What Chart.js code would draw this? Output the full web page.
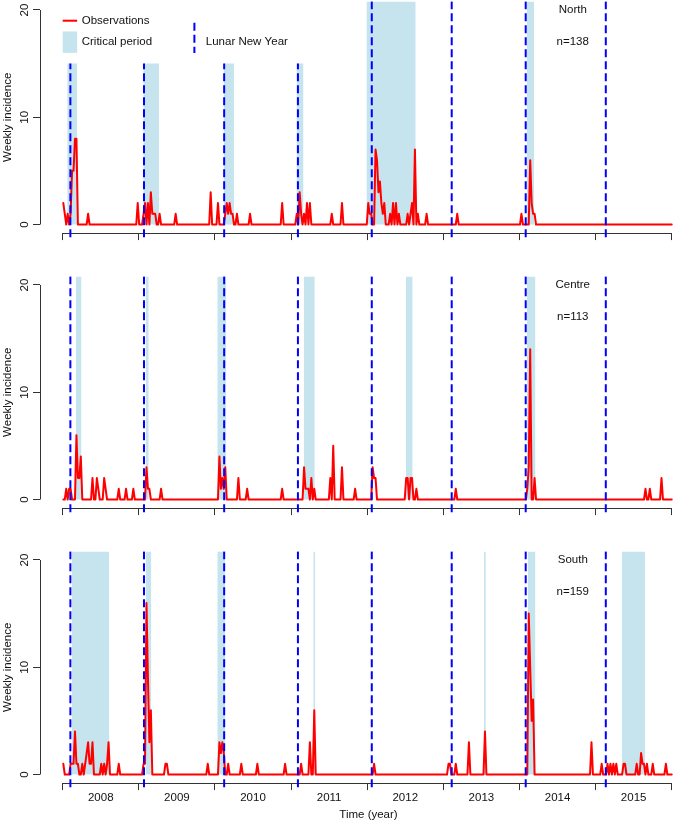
<!DOCTYPE html>
<html>
<head>
<meta charset="utf-8">
<title>Weekly incidence by region</title>
<script src="https://cdn.jsdelivr.net/npm/chart.js@4.4.1/dist/chart.umd.min.js"></script>
<style>
  html, body { margin: 0; padding: 0; background: #fff; overflow: hidden; }
  #wrap { width: 675px; height: 823px; overflow: hidden; }
  canvas { display: block; }
</style>
</head>
<body>
<div id="wrap">
  <canvas id="north" width="697" height="275"></canvas>
  <canvas id="centre" width="697" height="275"></canvas>
  <canvas id="south" width="697" height="273"></canvas>
</div>
<script>
// weekly series start in the first week of 2008
const WEEKS = 418;
const years = [2008, 2009, 2010, 2011, 2012, 2013, 2014, 2015];
const yTicks = [0, 10, 20];

// Lunar New Year, as decimal year
const lunarNewYear = [2008.101, 2009.068, 2010.121, 2011.090, 2012.060, 2013.110, 2014.082, 2015.134];

// weekly incidence as [week index, cases]; every other week is 0
const northCases = [
  [0, 2], [1, 1], [3, 1], [5, 1], [6, 5], [7, 5], [8, 8], [9, 8], [17, 1],
  [51, 2], [55, 1], [56, 2], [58, 2], [60, 3], [61, 1], [62, 1], [63, 1], [66, 1], [77, 1],
  [101, 3], [106, 2], [111, 1], [112, 2], [113, 1], [114, 2], [115, 1], [116, 1], [119, 1], [128, 1],
  [150, 2], [160, 1], [162, 3], [163, 1], [165, 1], [167, 2], [169, 2], [184, 1], [191, 2],
  [209, 2], [210, 1], [211, 1], [214, 7], [215, 6], [216, 3], [217, 4], [218, 2], [219, 1], [220, 2],
  [224, 1], [226, 2], [228, 2], [230, 1], [236, 1], [238, 1], [239, 2], [241, 7], [243, 1], [249, 1],
  [270, 1], [314, 1], [320, 6], [321, 2], [322, 1], [323, 1]
];
const centreCases = [
  [2, 1], [4, 1], [5, 1], [9, 6], [10, 2], [11, 2], [12, 4], [20, 2], [23, 2], [24, 1], [28, 2], [29, 1],
  [38, 1], [43, 1], [48, 1], [57, 3], [58, 1], [59, 1], [67, 1],
  [107, 4], [108, 1], [109, 2], [110, 1], [111, 3], [120, 2], [126, 1], [150, 1],
  [165, 3], [166, 1], [167, 1], [168, 1], [170, 2], [172, 1], [183, 2], [185, 5], [191, 3], [200, 1],
  [212, 3], [213, 2], [214, 2], [235, 2], [236, 2], [238, 2], [239, 2], [242, 1], [269, 1],
  [318, 1], [319, 3], [320, 14], [323, 2],
  [399, 1], [402, 1], [410, 2]
];
const southCases = [
  [0, 1], [5, 1], [6, 1], [7, 1], [8, 4], [9, 1], [10, 1], [13, 1], [15, 1], [16, 2], [17, 3], [18, 1],
  [19, 1], [20, 3], [26, 1], [28, 1], [30, 1], [31, 3], [38, 1],
  [55, 1], [56, 1], [57, 16], [58, 9], [59, 3], [60, 6], [70, 1], [71, 1], [99, 1],
  [107, 3], [108, 2], [109, 3], [110, 2], [113, 1], [122, 1], [133, 1], [152, 1], [163, 1], [169, 3], [172, 6],
  [213, 1], [264, 1], [265, 1], [269, 1], [278, 3], [289, 4],
  [319, 15], [320, 10], [321, 5], [322, 7],
  [362, 3], [369, 1], [373, 1], [375, 1], [377, 1], [379, 1], [384, 1], [385, 1], [393, 1],
  [396, 2], [397, 1], [398, 1], [400, 1], [404, 1], [413, 1]
];

// critical periods: [start, end, top of shading]
const northCritical = [
  [2008.060, 2008.192, 15], [2009.059, 2009.265, 15], [2010.119, 2010.250, 15], [2011.071, 2011.163, 15],
  [2011.990, 2012.637, 22], [2014.095, 2014.191, 22]
];
const centreCritical = [
  [2008.175, 2008.247, 22], [2009.090, 2009.130, 22], [2010.031, 2010.149, 22], [2011.166, 2011.311, 22],
  [2012.509, 2012.597, 22], [2014.099, 2014.210, 22]
];
const southCritical = [
  [2008.122, 2008.612, 22], [2009.090, 2009.164, 22], [2010.031, 2010.136, 22], [2011.292, 2011.317, 22],
  [2013.534, 2013.558, 22], [2014.110, 2014.210, 22], [2015.343, 2015.649, 22]
];

// top of each Lunar New Year line (North leaves room for the legend)
const northLnyTop = [15, 15, 15, 15, 22, 22, 22, 22];
const fullLnyTop = [22, 22, 22, 22, 22, 22, 22, 22];

const FONT = { family: '"Liberation Sans", Arial, Helvetica, sans-serif', size: 11.5 };
const TEXT = '#111';
const AXIS = '#333';
const RED = '#ff0000';
const BLUE = '#0000ff';
const SHADE = '#c6e4ee';

function weekToYear(w) {
  return 2008 + (w * 7 + 3) / 365.25;
}

function weeklySeries(cases) {
  const counts = new Array(WEEKS).fill(0);
  cases.forEach(([w, n]) => { counts[w] = n; });
  return counts.map((n, w) => ({ x: weekToYear(w), y: n }));
}

// year boundaries get tick marks, mid-years get the labels
const xTicks = [];
years.forEach(yr => { xTicks.push(yr, yr + 0.5); });
xTicks.push(years[years.length - 1] + 1);

const panelDecor = {
  id: 'panelDecor',
  beforeDatasetsDraw(chart) {
    const { ctx, chartArea, scales: { x, y } } = chart;
    ctx.save();
    ctx.strokeStyle = AXIS;
    ctx.lineWidth = 1;
    ctx.beginPath();
    const yb = Math.round(chartArea.bottom) + 0.5;
    ctx.moveTo(x.getPixelForValue(years[0]), yb);
    ctx.lineTo(x.getPixelForValue(years[years.length - 1] + 1), yb);
    const xl = Math.round(chartArea.left) + 0.5;
    ctx.moveTo(xl, y.getPixelForValue(yTicks[0]));
    ctx.lineTo(xl, y.getPixelForValue(yTicks[yTicks.length - 1]));
    ctx.stroke();
    ctx.restore();
  },
  afterDraw(chart, args, opts) {
    const { ctx, scales: { x, y } } = chart;
    ctx.save();
    ctx.font = FONT.size + 'px ' + FONT.family;
    ctx.fillStyle = TEXT;
    ctx.textBaseline = 'middle';
    ctx.textAlign = 'center';
    ctx.fillText(opts.name, x.getPixelForValue(2014.7), y.getPixelForValue(20));
    ctx.fillText('n=' + opts.n, x.getPixelForValue(2014.7), y.getPixelForValue(17));

    if (opts.legend) {
      const x0 = x.getPixelForValue(2008.0), x1 = x.getPixelForValue(2008.19);
      ctx.strokeStyle = RED;
      ctx.lineWidth = 2;
      ctx.beginPath();
      ctx.moveTo(x0, y.getPixelForValue(19));
      ctx.lineTo(x1, y.getPixelForValue(19));
      ctx.stroke();
      ctx.fillStyle = SHADE;
      ctx.fillRect(x0, y.getPixelForValue(18), x1 - x0, y.getPixelForValue(16) - y.getPixelForValue(18));
      const xd = x.getPixelForValue(2009.73);
      ctx.strokeStyle = BLUE;
      ctx.setLineDash([8, 4]);
      ctx.beginPath();
      ctx.moveTo(xd, y.getPixelForValue(18.8));
      ctx.lineTo(xd, y.getPixelForValue(16));
      ctx.stroke();
      ctx.setLineDash([]);
      ctx.fillStyle = TEXT;
      ctx.textAlign = 'left';
      ctx.fillText('Observations', x.getPixelForValue(2008.25), y.getPixelForValue(19));
      ctx.fillText('Critical period', x.getPixelForValue(2008.25), y.getPixelForValue(17));
      ctx.fillText('Lunar New Year', x.getPixelForValue(2009.88), y.getPixelForValue(17));
    }
    ctx.restore();
  }
};

function makePanel(canvasId, p) {
  const datasets = [];

  lunarNewYear.forEach((d, i) => {
    datasets.push({
      data: [{ x: d, y: -1.2 }, { x: d, y: p.lnyTop[i] }],
      borderColor: BLUE,
      borderWidth: 2,
      borderDash: [8, 4],
      pointRadius: 0,
      fill: false,
      order: 0,
      clip: { left: 0, top: 0, right: 0, bottom: 6 }
    });
  });

  datasets.push({
    data: weeklySeries(p.cases),
    borderColor: RED,
    borderWidth: 2,
    borderJoinStyle: 'round',
    borderCapStyle: 'round',
    pointRadius: 0,
    fill: false,
    order: 1
  });

  p.critical.forEach(([a, b, top]) => {
    datasets.push({
      data: [{ x: a, y: 0 }, { x: a, y: top }, { x: b, y: top }, { x: b, y: 0 }],
      borderColor: 'rgba(0,0,0,0)',
      borderWidth: 0,
      backgroundColor: SHADE,
      pointRadius: 0,
      fill: 'origin',
      order: 2
    });
  });

  return new Chart(document.getElementById(canvasId), {
    type: 'line',
    data: { datasets },
    plugins: [panelDecor],
    options: {
      responsive: false,
      animation: false,
      events: [],
      layout: { padding: { top: 1.4, left: 0, right: 0, bottom: 0 } },
      plugins: {
        legend: { display: false },
        tooltip: { enabled: false },
        panelDecor: { name: p.name, n: p.n, legend: p.legend }
      },
      scales: {
        x: {
          type: 'linear',
          min: 2007.702,
          max: 2016.332,
          afterBuildTicks: s => { s.ticks = xTicks.map(v => ({ value: v })); },
          afterFit: s => { s.height = p.xHeight; s.paddingLeft = 0; s.paddingRight = 0; },
          grid: {
            drawOnChartArea: false,
            drawTicks: true,
            tickLength: 7,
            tickWidth: 1,
            tickColor: c => (c.tick && c.tick.value % 1 === 0) ? AXIS : 'rgba(0,0,0,0)'
          },
          border: { display: false },
          ticks: {
            display: p.showYears,
            autoSkip: false,
            minRotation: 0,
            maxRotation: 0,
            padding: 1,
            color: TEXT,
            font: FONT,
            callback: v => (v % 1 ? String(years[Math.floor(v) - years[0]]) : '')
          },
          title: {
            display: p.showYears,
            text: 'Time (year)',
            color: TEXT,
            font: FONT,
            padding: { top: 0, bottom: 1.1 }
          }
        },
        y: {
          type: 'linear',
          min: -0.8,
          max: 20.8,
          afterBuildTicks: s => { s.ticks = yTicks.map(v => ({ value: v })); },
          afterFit: s => { s.width = 40; s.paddingTop = 0; s.paddingBottom = 0; },
          grid: { drawOnChartArea: false, tickLength: 7, tickWidth: 1, tickColor: AXIS },
          border: { display: false },
          ticks: {
            minRotation: 90,
            maxRotation: 90,
            crossAlign: 'center',
            padding: 2,
            color: TEXT,
            font: FONT
          },
          title: {
            display: true,
            text: 'Weekly incidence',
            color: TEXT,
            font: FONT,
            padding: { top: 1.4, bottom: 0 }
          }
        }
      }
    }
  });
}

makePanel('north', { name: 'North', n: 138, cases: northCases, critical: northCritical,
  lnyTop: northLnyTop, legend: true, showYears: false, xHeight: 275 - 233.08 });
makePanel('centre', { name: 'Centre', n: 113, cases: centreCases, critical: centreCritical,
  lnyTop: fullLnyTop, legend: false, showYears: false, xHeight: 275 - 233.08 });
makePanel('south', { name: 'South', n: 159, cases: southCases, critical: southCritical,
  lnyTop: fullLnyTop, legend: false, showYears: true, xHeight: 273 - 233.08 });
</script>
</body>
</html>
